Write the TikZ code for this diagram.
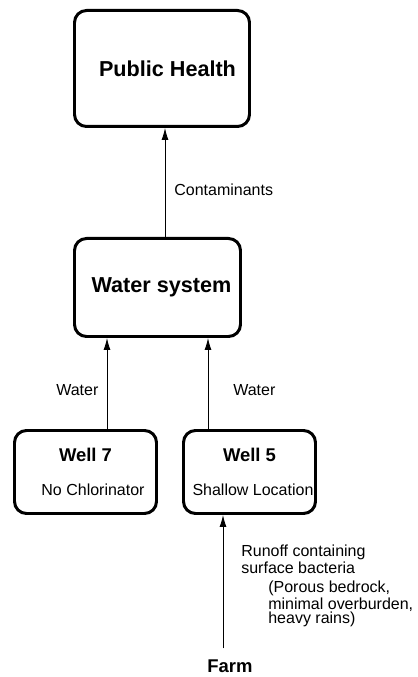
\documentclass[tikz,border=0pt]{standalone}
\usepackage{fontspec}
\setmainfont{Liberation Sans}
\usetikzlibrary{
  arrows.meta,
  positioning
}
\tikzset{
  >={Latex[length=2.4mm,width=1.4mm]},
  flow/.style={->,line width=.5pt,draw=black},
  box/.style={
    draw=black,
    line width=1.7pt,
    rounded corners=2.4mm,
    align=center,
    inner sep=0pt
  },
  bigtitle/.style={font=\fontsize{12.3}{14}\selectfont\bfseries},
  wellbox/.style={box,font=\fontsize{9.1}{11}\selectfont,minimum height=1.66cm},
  wellname/.style={font=\fontsize{10.5}{12}\selectfont\bfseries},
  smalllabel/.style={font=\fontsize{9.1}{10.5}\selectfont,align=left,inner sep=0pt}
}

\begin{document}
\begin{tikzpicture}
  \useasboundingbox (0,0) rectangle (8.34,13.54);

  \node[box,bigtitle,minimum width=3.5cm,minimum height=2.32cm] (health) at (3.24,12.17)
    {\hspace*{2.2mm}Public Health};
  \node[box,bigtitle,minimum width=3.32cm,minimum height=1.96cm] (water) at (3.15,7.79)
    {\hspace*{1.6mm}Water system};

  \node[wellbox,minimum width=2.84cm] (well7) at (1.71,4.10)
    {{\fontsize{10.5}{12}\selectfont\bfseries Well 7}\\[8pt]\hspace*{3mm}No Chlorinator};
  \node[wellbox,minimum width=2.64cm] (well5) at (4.99,4.10)
    {{\fontsize{10.5}{12}\selectfont\bfseries Well 5}\\[8pt]\hspace*{1.4mm}Shallow Location};

  \node[wellname] (farm) at (4.60,0.22) {Farm};

  % connectors
  \draw[flow] ([xshift=1.5mm]water.north) -- ([xshift=1.5mm]water.north |- health.south);
  \draw[flow] ([xshift=4.3mm]well7.north) -- ([xshift=4.3mm]well7.north |- water.south);
  \draw[flow] ([xshift=-8.3mm]well5.north) -- ([xshift=-8.3mm]well5.north |- water.south);
  \draw[flow] ([xshift=-1.4mm,yshift=1mm]farm.north) -- ([xshift=-1.4mm]farm.north |- well5.south);

  % labels
  \node[smalllabel,anchor=west] (contam) at (3.48,9.74) {Contaminants};
  \node[smalllabel,anchor=west] (water7) at (1.12,5.74) {Water};
  \node[smalllabel,anchor=west] (water5) at (4.66,5.74) {Water};
  \node[smalllabel,anchor=west,font=\fontsize{9.1}{9.6}\selectfont] (runoff) at (4.82,2.36)
    {Runoff containing\\surface bacteria};
  \node[smalllabel,anchor=west,font=\fontsize{9.1}{8.4}\selectfont] (causes) at (5.36,1.46)
    {(Porous bedrock,\\minimal overburden,\\heavy rains)};
\end{tikzpicture}
\end{document}
